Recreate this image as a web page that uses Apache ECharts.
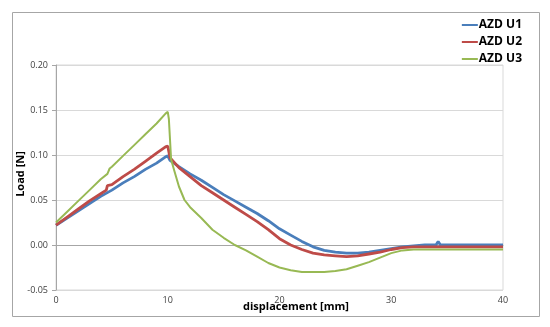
<!DOCTYPE html>
<html><head><meta charset="utf-8">
<script src="https://cdn.jsdelivr.net/npm/echarts@6/dist/echarts.min.js"></script>
<style>html,body{margin:0;padding:0;background:#fff}#c{width:550px;height:327px}</style>
</head><body><div id="c"></div>
<script>
var seriesNames = ['AZD U1', 'AZD U2', 'AZD U3'];
var xTitle = 'displacement [mm]';
var yTitle = 'Load [N]';
var xTicks = [0, 10, 20, 30, 40];
var yTicks = [-0.05, 0.00, 0.05, 0.10, 0.15, 0.20];

var u1 = [[0,0.022],[1,0.030],[2,0.038],[3,0.046],[4,0.054],[5,0.061],[6,0.069],[7,0.076],[8,0.084],[9,0.091],[9.8,0.098],[10,0.099],[10.2,0.094],[11,0.087],[12,0.079],[13,0.072],[14,0.064],[15,0.056],[16,0.049],[17,0.042],[18,0.035],[19,0.027],[20,0.018],[21,0.011],[22,0.004],[23,-0.002],[24,-0.006],[25,-0.008],[26,-0.009],[27,-0.009],[28,-0.008],[29,-0.006],[30,-0.004],[31,-0.002],[32,-0.001],[33,0.000],[34,0.000],[34.2,0.004],[34.4,0.000],[36,0.000],[38,0.000],[40,0.000]];
var u2 = [[0,0.022],[1,0.031],[2,0.040],[3,0.049],[4,0.057],[4.5,0.061],[4.6,0.066],[5,0.067],[6,0.076],[7,0.084],[8,0.093],[9,0.102],[9.8,0.109],[10,0.110],[10.2,0.097],[11,0.086],[12,0.076],[13,0.066],[14,0.058],[15,0.050],[16,0.042],[17,0.034],[18,0.026],[19,0.017],[20,0.007],[21,0.000],[22,-0.005],[23,-0.009],[24,-0.011],[25,-0.012],[26,-0.013],[27,-0.012],[28,-0.010],[29,-0.008],[30,-0.005],[31,-0.003],[32,-0.002],[34,-0.002],[36,-0.002],[38,-0.002],[40,-0.002]];
var u3 = [[0,0.025],[1,0.037],[2,0.049],[3,0.061],[4,0.073],[4.6,0.079],[4.8,0.085],[5,0.087],[6,0.099],[7,0.111],[8,0.123],[9,0.135],[9.8,0.146],[10,0.148],[10.1,0.140],[10.3,0.095],[10.6,0.082],[11,0.065],[11.5,0.050],[12,0.042],[13,0.030],[14,0.017],[15,0.008],[16,0.000],[17,-0.006],[18,-0.013],[19,-0.020],[20,-0.025],[21,-0.028],[22,-0.030],[23,-0.030],[24,-0.030],[25,-0.029],[26,-0.027],[27,-0.023],[28,-0.019],[29,-0.014],[30,-0.009],[31,-0.006],[32,-0.005],[34,-0.005],[36,-0.005],[38,-0.005],[40,-0.005]];

var colors = ['#4a7ebb', '#be4b48', '#98b954'];
var chart = echarts.init(document.getElementById('c'), null, {renderer: 'canvas'});
var font = 'Open Sans, Noto Sans, sans-serif';
chart.setOption({
  animation: false,
  color: colors,
  graphic: [
    {type: 'rect', shape: {x: 12.5, y: 12.5, width: 527, height: 304}, style: {fill: 'none', stroke: '#a6a6a6', lineWidth: 1}, z: -1},
    {type: 'text', x: 296, y: 307, style: {text: xTitle, font: 'bold 11px ' + font, fill: '#000', align: 'center', verticalAlign: 'middle'}},
    {type: 'text', x: 21, y: 174, rotation: Math.PI / 2, style: {text: yTitle, font: 'bold 11px ' + font, fill: '#000', align: 'center', verticalAlign: 'middle'}}
  ],
  legend: {
    orient: 'vertical', right: 23, top: 14, itemGap: 5, itemWidth: 16, itemHeight: 2,
    icon: 'rect',
    textStyle: {fontFamily: font, fontWeight: 'bold', fontSize: 12, color: '#000', padding: [0,0,0,-4]},
    data: seriesNames
  },
  grid: {left: 56, right: 47, top: 65, bottom: 37, show: true, borderColor: '#d9d9d9', borderWidth: 1, containLabel: false, outerBoundsMode: 'none'},
  xAxis: {
    type: 'value', min: xTicks[0], max: xTicks[xTicks.length-1], interval: 10,
    axisLine: {onZero: true, lineStyle: {color: '#a6a6a6'}},
    axisTick: {show: false},
    axisLabel: {fontFamily: font, fontSize: 9, color: '#404040', margin: 6},
    splitLine: {show: false}
  },
  yAxis: {
    type: 'value', min: yTicks[0], max: yTicks[yTicks.length-1], interval: 0.05,
    axisLine: {show: true, lineStyle: {color: '#a6a6a6'}},
    axisTick: {show: true, length: 4, lineStyle: {color: '#a6a6a6'}},
    axisLabel: {fontFamily: font, fontSize: 9, color: '#404040', margin: 8, formatter: function(v){return v.toFixed(2);}},
    splitLine: {lineStyle: {color: '#d9d9d9'}}
  },
  series: [
    {name: seriesNames[0], type: 'line', data: u1, showSymbol: false, lineStyle: {width: 2.8}},
    {name: seriesNames[1], type: 'line', data: u2, showSymbol: false, lineStyle: {width: 2.8}},
    {name: seriesNames[2], type: 'line', data: u3, showSymbol: false, lineStyle: {width: 2}}
  ]
});
</script></body></html>
